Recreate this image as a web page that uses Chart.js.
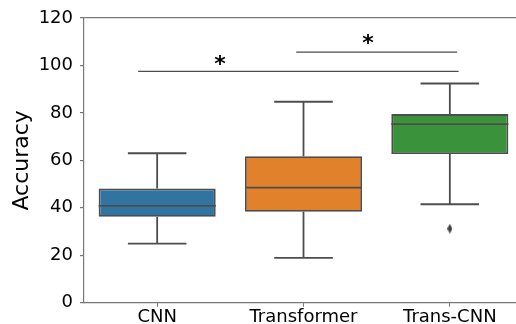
<!DOCTYPE html>
<html>
<head>
<meta charset="utf-8">
<script src="https://cdn.jsdelivr.net/npm/chart.js@4/dist/chart.umd.min.js"></script>
<style>
  html, body { margin: 0; padding: 0; overflow: hidden; background: #ffffff; }
  #wrap { width: 530px; height: 324px; }
</style>
</head>
<body>
<div id="wrap"><canvas id="chart" width="530" height="324"></canvas></div>
<script>
// Box-plot summary per model (accuracy, %)
const categories  = ['CNN', 'Transformer', 'Trans-CNN'];
const whiskerLow  = [24.9, 18.9, 41.5];
const q1          = [36.2, 38.3, 62.7];
const median      = [40.8, 48.5, 75.3];
const q3          = [48.1, 61.7, 79.5];
const whiskerHigh = [63.0, 84.7, 92.4];
const outliers    = [[], [], [31.2]];
const yTicks      = [0, 20, 40, 60, 80, 100, 120];

// Significance brackets (category units on x, accuracy on y)
const bracketFrom  = [-0.13, 0.95];
const bracketTo    = [2.06, 2.05];
const bracketLevel = [97.5, 105.6];
const starAt       = [0.43, 1.44];
const starLevel    = [101.7, 110.8];

const boxColors = ['#3274a1', '#e1812c', '#3a923a'];
const lineGray  = '#4d4d4d';
const axisGray  = '#777777';
const FONT = '"DejaVu Sans", sans-serif';

// Whiskers, caps and medians as broken line segments
function segments() {
  const pts = [];
  const push = (a, b) => { pts.push(a, b, { x: a.x, y: null }); };
  categories.forEach((_, i) => {
    push({ x: i - 0.4, y: median[i] }, { x: i + 0.4, y: median[i] });
    push({ x: i, y: q1[i] }, { x: i, y: whiskerLow[i] });
    push({ x: i, y: q3[i] }, { x: i, y: whiskerHigh[i] });
    push({ x: i - 0.2, y: whiskerLow[i] }, { x: i + 0.2, y: whiskerLow[i] });
    push({ x: i - 0.2, y: whiskerHigh[i] }, { x: i + 0.2, y: whiskerHigh[i] });
  });
  return pts;
}

function brackets() {
  const pts = [];
  bracketFrom.forEach((f, k) => {
    pts.push({ x: f, y: bracketLevel[k] }, { x: bracketTo[k], y: bracketLevel[k] }, { x: f, y: null });
  });
  return pts;
}

function fliers() {
  const pts = [];
  outliers.forEach((list, i) => list.forEach(v => pts.push({ x: i, y: v })));
  return pts;
}

// Thin diamond marker for outliers
function thinDiamond(w, h, color) {
  const c = document.createElement('canvas');
  c.width = w; c.height = h;
  const g = c.getContext('2d');
  g.fillStyle = color;
  g.beginPath();
  g.moveTo(w / 2, 0); g.lineTo(w, h / 2); g.lineTo(w / 2, h); g.lineTo(0, h / 2);
  g.closePath(); g.fill();
  return c;
}

const starPlugin = {
  id: 'stars',
  afterDatasetsDraw(chart) {
    const { ctx, scales } = chart;
    ctx.save();
    ctx.font = 'bold 22px ' + FONT;
    ctx.fillStyle = '#000000';
    ctx.textAlign = 'center';
    ctx.textBaseline = 'middle';
    starAt.forEach((sx, k) => {
      ctx.fillText('*', scales.x2.getPixelForValue(sx), scales.y.getPixelForValue(starLevel[k]) + 4);
    });
    ctx.restore();
  }
};

new Chart(document.getElementById('chart'), {
  type: 'bar',
  data: {
    labels: categories,
    datasets: [
      {
        type: 'bar',
        data: categories.map((_, i) => [q1[i], q3[i]]),
        backgroundColor: boxColors,
        borderColor: lineGray,
        borderWidth: 1.8,
        borderSkipped: false,
        grouped: false,
        barPercentage: 0.8,
        categoryPercentage: 1.0,
        xAxisID: 'x',
        yAxisID: 'y',
        order: 3
      },
      {
        type: 'line',
        data: segments(),
        xAxisID: 'x2',
        yAxisID: 'y',
        borderColor: lineGray,
        borderWidth: 1.8,
        pointRadius: 0,
        spanGaps: false,
        fill: false,
        order: 2
      },
      {
        type: 'line',
        data: brackets(),
        xAxisID: 'x2',
        yAxisID: 'y',
        borderColor: lineGray,
        borderWidth: 1.3,
        pointRadius: 0,
        spanGaps: false,
        fill: false,
        order: 1
      },
      {
        type: 'scatter',
        data: fliers(),
        xAxisID: 'x2',
        yAxisID: 'y',
        pointStyle: thinDiamond(5, 10, '#3d3d3d'),
        pointRadius: 5,
        order: 0
      }
    ]
  },
  options: {
    responsive: false,
    animation: false,
    layout: { padding: { top: 18, right: 7, bottom: 0, left: 0 } },
    plugins: { legend: { display: false }, tooltip: { enabled: false } },
    scales: {
      x: {
        type: 'category',
        offset: true,
        afterFit: s => { s.height = 21.3; },
        border: { display: true, color: axisGray, width: 1.2 },
        grid: { offset: false, drawOnChartArea: false, color: axisGray, tickColor: axisGray, tickLength: 4 },
        ticks: { color: '#000000', font: { family: FONT, size: 18 }, padding: 0, maxRotation: 0 }
      },
      x2: {
        type: 'linear',
        min: -0.5,
        max: 2.5,
        offset: false,
        grid: { offset: false },
        display: false
      },
      y: {
        type: 'linear',
        min: 0,
        max: 120,
        afterFit: s => { s.width = 84; },
        afterBuildTicks: s => { s.ticks = yTicks.map(v => ({ value: v })); },
        border: { display: true, color: axisGray, width: 1.2 },
        grid: {
          drawOnChartArea: true,
          color: c => (c.tick && c.tick.value === 120 ? axisGray : 'rgba(0,0,0,0)'),
          tickColor: axisGray,
          tickLength: 4,
          lineWidth: 1.2
        },
        ticks: { color: '#000000', font: { family: FONT, size: 18 }, padding: 7 },
        title: {
          display: true,
          text: 'Accuracy',
          color: '#000000',
          font: { family: FONT, size: 22 },
          padding: { top: 9, bottom: 0 }
        }
      }
    }
  },
  plugins: [starPlugin]
});
</script>
</body>
</html>
